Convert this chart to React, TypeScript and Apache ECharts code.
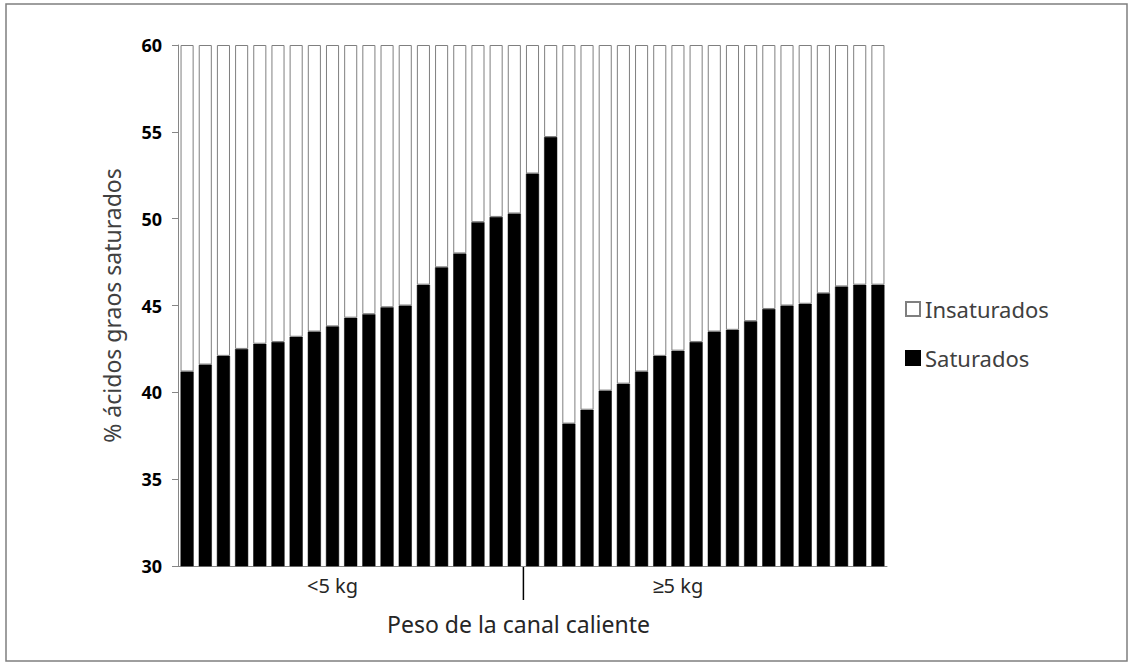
import React, { useEffect, useRef } from "react";
import * as echarts from "echarts";

const categories = Array.from({ length: 39 }, (_, i) => String(i + 1));
const saturados = [
  41.2, 41.6, 42.1, 42.5, 42.8, 42.9, 43.2, 43.5, 43.8, 44.3, 44.5, 44.9, 45.0,
  46.2, 47.2, 48.0, 49.8, 50.1, 50.3, 52.6, 54.7, 38.2, 39.0, 40.1, 40.5, 41.2,
  42.1, 42.4, 42.9, 43.5, 43.6, 44.1, 44.8, 45.0, 45.1, 45.7, 46.1, 46.2, 46.2,
];
const insaturados = [
  18.8, 18.4, 17.9, 17.5, 17.2, 17.1, 16.8, 16.5, 16.2, 15.7, 15.5, 15.1, 15.0,
  13.8, 12.8, 12.0, 10.2, 9.9, 9.7, 7.4, 5.3, 21.8, 21.0, 19.9, 19.5, 18.8,
  17.9, 17.6, 17.1, 16.5, 16.4, 15.9, 15.2, 15.0, 14.9, 14.3, 13.9, 13.8, 13.8,
];
const groupLabels = ["<5 kg", "≥5 kg"];
const groupLabelIndex = [8, 27];
const dividerAfterIndex = 18;
const yTicks = { min: 30, max: 60, interval: 5 };

const FONT = "'Noto Sans', sans-serif";

export default function App() {
  const ref = useRef<HTMLDivElement>(null);
  useEffect(() => {
    if (!ref.current) return;
    const chart = echarts.init(ref.current, null, { renderer: "svg" });
    chart.setOption({
      animation: false,
      backgroundColor: "#ffffff",
      textStyle: { fontFamily: FONT },
      grid: { left: 178, top: 45, width: 709, height: 521, containLabel: false },
      legend: {
        orient: "vertical",
        left: 905,
        top: 298,
        padding: 0,
        itemWidth: 14,
        itemHeight: 14,
        itemGap: 27,
        icon: "rect",
        data: ["Insaturados", "Saturados"],
        textStyle: { fontFamily: FONT, fontSize: 22, color: "#404040" },
      },
      xAxis: {
        type: "category",
        data: categories,
        boundaryGap: true,
        name: "Peso de la canal caliente",
        nameLocation: "middle",
        nameGap: 46,
        nameTextStyle: {
          fontFamily: FONT,
          fontSize: 23,
          color: "#262626",
          padding: [0, 28, 0, 0],
        },
        axisLine: { show: true, lineStyle: { color: "#868686", width: 1 } },
        axisTick: { show: false },
        axisLabel: {
          show: true,
          interval: (i: number) => groupLabelIndex.includes(i),
          formatter: (_v: string, i: number) => {
            const k = groupLabelIndex.indexOf(i);
            return k >= 0 ? groupLabels[k] : "";
          },
          margin: 9,
          fontFamily: FONT,
          fontSize: 20,
          color: "#262626",
        },
      },
      yAxis: {
        type: "value",
        min: yTicks.min,
        max: yTicks.max,
        interval: yTicks.interval,
        name: "% ácidos graos saturados",
        nameLocation: "middle",
        nameGap: 55,
        nameTextStyle: { fontFamily: FONT, fontSize: 23, color: "#404040" },
        splitLine: { show: false },
        axisLine: { show: true, lineStyle: { color: "#868686", width: 1 } },
        axisTick: { show: true, length: 6, lineStyle: { color: "#868686" } },
        axisLabel: {
          margin: 16,
          fontFamily: FONT,
          fontSize: 18,
          fontWeight: "bold",
          color: "#000000",
        },
      },
      series: [
        {
          name: "Saturados",
          type: "bar",
          stack: "total",
          data: saturados,
          barCategoryGap: "28%",
          itemStyle: { color: "#000000", borderColor: "#000000", borderWidth: 0.5 },
        },
        {
          name: "Insaturados",
          type: "bar",
          stack: "total",
          data: insaturados,
          barCategoryGap: "28%",
          itemStyle: { color: "#ffffff", borderColor: "#7f7f7f", borderWidth: 1 },
        },
      ],
    });
    const xa = chart.convertToPixel({ xAxisIndex: 0 }, dividerAfterIndex) as number;
    const xb = chart.convertToPixel({ xAxisIndex: 0 }, dividerAfterIndex + 1) as number;
    const xDiv = (xa + xb) / 2;
    const yBase = chart.convertToPixel({ yAxisIndex: 0 }, yTicks.min) as number;
    chart.setOption({
      graphic: [
        {
          type: "rect",
          shape: { x: 6, y: 4, width: 1121, height: 657 },
          style: { fill: "none", stroke: "#7f7f7f", lineWidth: 1.5 },
          silent: true,
        },
        {
          type: "line",
          shape: { x1: xDiv, y1: yBase, x2: xDiv, y2: yBase + 34 },
          style: { stroke: "#000000", lineWidth: 1.5 },
          silent: true,
        },
      ],
    });
    return () => chart.dispose();
  }, []);
  return (
    <div
      ref={ref}
      style={{ position: "fixed", left: 0, top: 0, width: 1134, height: 666 }}
    />
  );
}
